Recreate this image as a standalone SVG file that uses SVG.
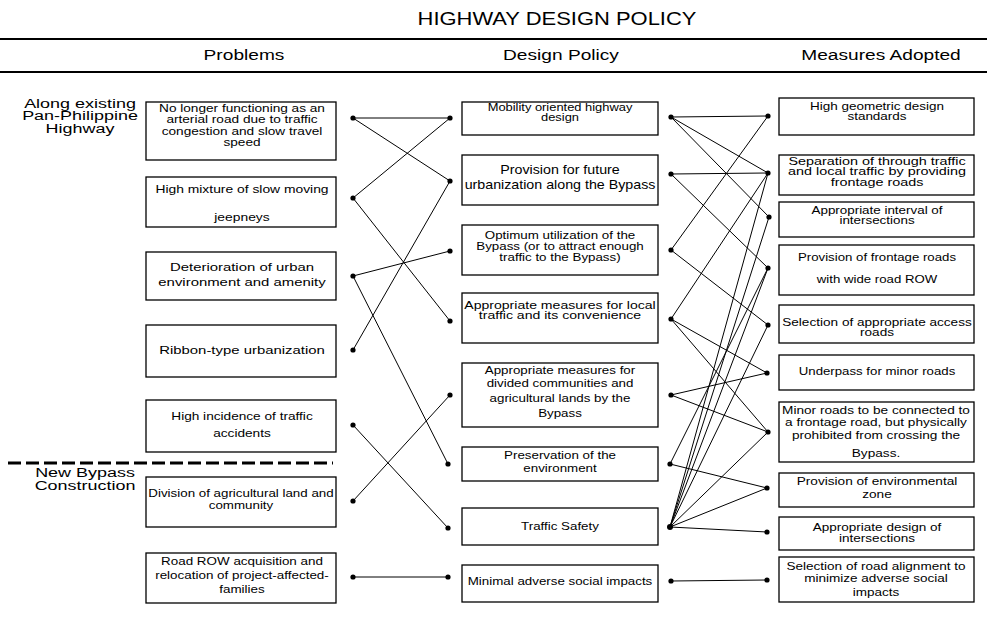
<svg xmlns="http://www.w3.org/2000/svg" width="987" height="624" viewBox="0 0 987 624">
  <style>
    text { font-family: "Liberation Sans", Arial, sans-serif; fill: #000; text-anchor: middle; }
    .title { font-size: 18px; }
    .head { font-size: 14.5px; }
    .side { font-size: 13.5px; }
    .t { font-size: 10.5px; }
    .t10 { font-size: 10px; }
    .t11 { font-size: 11.3px; }
    .t12 { font-size: 12.5px; }
    .box { fill: #fff; stroke: #000; stroke-width: 1.3; }
    .rule { stroke: #000; stroke-width: 2; }
    .dash { stroke: #000; stroke-width: 3; stroke-dasharray: 13 5; }
    .link { stroke: #000; stroke-width: 1; fill: none; }
    .dot { fill: #000; }
  </style>

  <rect width="987" height="624" fill="#fff"/>

  <!-- heading and column titles -->
  <g id="heading">
    <g transform="translate(557 0) scale(1.22 1)"><text class="title" x="0" y="25">HIGHWAY DESIGN POLICY</text></g>
    <line class="rule" x1="0" y1="39" x2="987" y2="39"/>
    <g transform="translate(244 0) scale(1.32 1)"><text class="head" x="0" y="60">Problems</text></g>
    <g transform="translate(561 0) scale(1.32 1)"><text class="head" x="0" y="60">Design Policy</text></g>
    <g transform="translate(881 0) scale(1.32 1)"><text class="head" x="0" y="60">Measures Adopted</text></g>
    <line class="rule" x1="0" y1="72" x2="987" y2="72"/>
  </g>

  <!-- section labels -->
  <g id="section-existing" transform="translate(80 0) scale(1.33 1)">
    <text class="side" x="0" y="108">Along existing</text>
    <text class="side" x="0" y="120.5">Pan-Philippine</text>
    <text class="side" x="0" y="133">Highway</text>
  </g>
  <line id="section-divider" class="dash" x1="8" y1="463" x2="333" y2="463"/>
  <g id="section-bypass" transform="translate(85 0) scale(1.33 1)">
    <text class="side" x="0" y="477">New Bypass</text>
    <text class="side" x="0" y="490">Construction</text>
  </g>

  <!-- connectors -->
  <g id="connectors">
    <!-- problems to design policy -->
    <line class="link" x1="353" y1="118" x2="450" y2="118"/>
    <line class="link" x1="353" y1="118" x2="450" y2="181"/>
    <line class="link" x1="353" y1="198" x2="450" y2="118"/>
    <line class="link" x1="353" y1="198" x2="450" y2="321"/>
    <line class="link" x1="353" y1="276" x2="450" y2="251"/>
    <line class="link" x1="353" y1="276" x2="448" y2="464"/>
    <line class="link" x1="353" y1="350" x2="450" y2="181"/>
    <line class="link" x1="353" y1="425" x2="448" y2="528"/>
    <line class="link" x1="353" y1="501" x2="450" y2="395"/>
    <line class="link" x1="353" y1="577" x2="448" y2="577"/>
    <!-- design policy to measures -->
    <line class="link" x1="671" y1="117" x2="768" y2="116"/>
    <line class="link" x1="671" y1="117" x2="768" y2="173"/>
    <line class="link" x1="671" y1="117" x2="769" y2="217"/>
    <line class="link" x1="671" y1="174" x2="768" y2="173"/>
    <line class="link" x1="671" y1="174" x2="768" y2="268"/>
    <line class="link" x1="671" y1="250" x2="768" y2="116"/>
    <line class="link" x1="671" y1="250" x2="768" y2="325"/>
    <line class="link" x1="671" y1="319" x2="768" y2="173"/>
    <line class="link" x1="671" y1="319" x2="767" y2="373"/>
    <line class="link" x1="671" y1="319" x2="768" y2="432"/>
    <line class="link" x1="671" y1="395" x2="767" y2="373"/>
    <line class="link" x1="671" y1="395" x2="768" y2="432"/>
    <line class="link" x1="670" y1="464" x2="768" y2="268"/>
    <line class="link" x1="670" y1="464" x2="767" y2="488"/>
    <line class="link" x1="670" y1="527" x2="768" y2="173"/>
    <line class="link" x1="670" y1="527" x2="769" y2="217"/>
    <line class="link" x1="670" y1="527" x2="768" y2="268"/>
    <line class="link" x1="670" y1="527" x2="768" y2="325"/>
    <line class="link" x1="670" y1="527" x2="768" y2="432"/>
    <line class="link" x1="670" y1="527" x2="767" y2="488"/>
    <line class="link" x1="670" y1="527" x2="767" y2="532"/>
    <line class="link" x1="671" y1="581" x2="767" y2="580"/>
    <!-- end dots -->
    <circle class="dot" cx="353" cy="118" r="2.6"/>
    <circle class="dot" cx="353" cy="198" r="2.6"/>
    <circle class="dot" cx="353" cy="276" r="2.6"/>
    <circle class="dot" cx="353" cy="350" r="2.6"/>
    <circle class="dot" cx="353" cy="425" r="2.6"/>
    <circle class="dot" cx="353" cy="501" r="2.6"/>
    <circle class="dot" cx="353" cy="577" r="2.6"/>
    <circle class="dot" cx="450" cy="118" r="2.6"/>
    <circle class="dot" cx="450" cy="181" r="2.6"/>
    <circle class="dot" cx="450" cy="251" r="2.6"/>
    <circle class="dot" cx="450" cy="321" r="2.6"/>
    <circle class="dot" cx="450" cy="395" r="2.6"/>
    <circle class="dot" cx="448" cy="464" r="2.6"/>
    <circle class="dot" cx="448" cy="528" r="2.6"/>
    <circle class="dot" cx="448" cy="577" r="2.6"/>
    <circle class="dot" cx="671" cy="117" r="2.6"/>
    <circle class="dot" cx="671" cy="174" r="2.6"/>
    <circle class="dot" cx="671" cy="250" r="2.6"/>
    <circle class="dot" cx="671" cy="319" r="2.6"/>
    <circle class="dot" cx="671" cy="395" r="2.6"/>
    <circle class="dot" cx="670" cy="464" r="2.6"/>
    <circle class="dot" cx="670" cy="527" r="3"/>
    <circle class="dot" cx="671" cy="581" r="2.6"/>
    <circle class="dot" cx="768" cy="116" r="2.6"/>
    <circle class="dot" cx="768" cy="173" r="2.6"/>
    <circle class="dot" cx="769" cy="217" r="2.6"/>
    <circle class="dot" cx="768" cy="268" r="2.6"/>
    <circle class="dot" cx="768" cy="325" r="2.6"/>
    <circle class="dot" cx="767" cy="373" r="2.6"/>
    <circle class="dot" cx="768" cy="432" r="2.6"/>
    <circle class="dot" cx="767" cy="488" r="2.6"/>
    <circle class="dot" cx="767" cy="532" r="2.6"/>
    <circle class="dot" cx="767" cy="580" r="2.6"/>
  </g>

  <!-- problems -->
  <g id="p1">
    <rect class="box" x="146" y="102" width="190" height="58"/>
    <g transform="translate(242 0) scale(1.3 1)">
      <text class="t" x="0" y="112">No longer functioning as an</text>
      <text class="t" x="0" y="123.5">arterial road due to traffic</text>
      <text class="t" x="0" y="135">congestion and slow travel</text>
      <text class="t" x="0" y="146.5">speed</text>
    </g>
  </g>
  <g id="p2">
    <rect class="box" x="146" y="177" width="190" height="50"/>
    <g transform="translate(242 0) scale(1.32 1)">
      <text class="t" x="0" y="193">High mixture of slow moving</text>
      <text class="t" x="0" y="221">jeepneys</text>
    </g>
  </g>
  <g id="p3">
    <rect class="box" x="146" y="252" width="190" height="48"/>
    <g transform="translate(242 0) scale(1.32 1)">
      <text class="t11" x="0" y="271">Deterioration of urban</text>
      <text class="t11" x="0" y="286">environment and amenity</text>
    </g>
  </g>
  <g id="p4">
    <rect class="box" x="146" y="325" width="190" height="52"/>
    <g transform="translate(242 0) scale(1.32 1)">
      <text class="t11" x="0" y="354">Ribbon-type urbanization</text>
    </g>
  </g>
  <g id="p5">
    <rect class="box" x="146" y="400" width="190" height="52"/>
    <g transform="translate(242 0) scale(1.3 1)">
      <text class="t" x="0" y="420.5">High incidence of traffic</text>
      <text class="t" x="0" y="437">accidents</text>
    </g>
  </g>
  <g id="p6">
    <rect class="box" x="146" y="477" width="190" height="50"/>
    <g transform="translate(241 0) scale(1.27 1)">
      <text class="t" x="0" y="497">Division of agricultural land and</text>
      <text class="t" x="0" y="509">community</text>
    </g>
  </g>
  <g id="p7">
    <rect class="box" x="146" y="553" width="190" height="50"/>
    <g transform="translate(242 0) scale(1.28 1)">
      <text class="t" x="0" y="565.5">Road ROW acquisition and</text>
      <text class="t" x="0" y="579">relocation of project-affected-</text>
      <text class="t" x="0" y="593">families</text>
    </g>
  </g>

  <!-- design policy -->
  <g id="d1">
    <rect class="box" x="462" y="102" width="196" height="33"/>
    <g transform="translate(560 0) scale(1.29 1)">
      <text class="t10" x="0" y="111">Mobility oriented highway</text>
      <text class="t10" x="0" y="121">design</text>
    </g>
  </g>
  <g id="d2">
    <rect class="box" x="462" y="155" width="196" height="50"/>
    <g transform="translate(560 0) scale(1.14 1)">
      <text class="t12" x="0" y="174.5">Provision for future</text>
      <text class="t12" x="0" y="189.5">urbanization along the Bypass</text>
    </g>
  </g>
  <g id="d3">
    <rect class="box" x="462" y="225" width="196" height="50"/>
    <g transform="translate(560 0) scale(1.27 1)">
      <text class="t" x="0" y="239.5">Optimum utilization of the</text>
      <text class="t" x="0" y="250.5">Bypass  (or to attract enough</text>
      <text class="t" x="0" y="261.5">traffic to the Bypass)</text>
    </g>
  </g>
  <g id="d4">
    <rect class="box" x="462" y="293" width="196" height="50"/>
    <g transform="translate(560 0) scale(1.34 1)">
      <text class="t" x="0" y="309">Appropriate measures for local</text>
      <text class="t" x="0" y="319.5">traffic and its convenience</text>
    </g>
  </g>
  <g id="d5">
    <rect class="box" x="462" y="363" width="196" height="64"/>
    <g transform="translate(560 0) scale(1.27 1)">
      <text class="t" x="0" y="374">Appropriate measures for</text>
      <text class="t" x="0" y="387.5">divided communities and</text>
      <text class="t" x="0" y="402">agricultural lands by the</text>
      <text class="t" x="0" y="417">Bypass</text>
    </g>
  </g>
  <g id="d6">
    <rect class="box" x="462" y="447" width="196" height="34"/>
    <g transform="translate(560 0) scale(1.27 1)">
      <text class="t" x="0" y="459">Preservation of the</text>
      <text class="t" x="0" y="472">environment</text>
    </g>
  </g>
  <g id="d7">
    <rect class="box" x="462" y="508" width="196" height="37"/>
    <g transform="translate(560 0) scale(1.27 1)">
      <text class="t" x="0" y="530">Traffic Safety</text>
    </g>
  </g>
  <g id="d8">
    <rect class="box" x="462" y="565" width="196" height="37"/>
    <g transform="translate(560 0) scale(1.27 1)">
      <text class="t" x="0" y="585.5">Minimal adverse social impacts</text>
    </g>
  </g>

  <!-- measures adopted -->
  <g id="m1">
    <rect class="box" x="779" y="98" width="195" height="37"/>
    <g transform="translate(877 0) scale(1.35 1)">
      <text class="t10" x="0" y="110.5">High geometric design</text>
      <text class="t10" x="0" y="120.5">standards</text>
    </g>
  </g>
  <g id="m2">
    <rect class="box" x="779" y="155" width="195" height="40"/>
    <g transform="translate(877 0) scale(1.44 1)">
      <text class="t10" x="0" y="165.5">Separation of through traffic</text>
      <text class="t10" x="0" y="175.5">and local traffic by providing</text>
      <text class="t10" x="0" y="186.5">frontage roads</text>
    </g>
  </g>
  <g id="m3">
    <rect class="box" x="779" y="202" width="195" height="35"/>
    <g transform="translate(877 0) scale(1.34 1)">
      <text class="t10" x="0" y="214.5">Appropriate interval of</text>
      <text class="t10" x="0" y="224.5">intersections</text>
    </g>
  </g>
  <g id="m4">
    <rect class="box" x="779" y="245" width="195" height="50"/>
    <g transform="translate(877 0) scale(1.26 1)">
      <text class="t" x="0" y="261">Provision of frontage roads</text>
      <text class="t" x="0" y="283">with wide road ROW</text>
    </g>
  </g>
  <g id="m5">
    <rect class="box" x="779" y="305" width="195" height="38"/>
    <g transform="translate(877 0) scale(1.36 1)">
      <text class="t10" x="0" y="326">Selection of appropriate access</text>
      <text class="t10" x="0" y="336">roads</text>
    </g>
  </g>
  <g id="m6">
    <rect class="box" x="779" y="355" width="195" height="35"/>
    <g transform="translate(877 0) scale(1.26 1)">
      <text class="t" x="0" y="375.5">Underpass for minor roads</text>
    </g>
  </g>
  <g id="m7">
    <rect class="box" x="779" y="402" width="195" height="60"/>
    <g transform="translate(876 0) scale(1.3 1)">
      <text class="t" x="0" y="414">Minor roads to be connected to</text>
      <text class="t" x="0" y="426">a frontage road, but physically</text>
      <text class="t" x="0" y="439">prohibited from crossing the</text>
      <text class="t" x="0" y="457">Bypass.</text>
    </g>
  </g>
  <g id="m8">
    <rect class="box" x="779" y="473" width="195" height="34"/>
    <g transform="translate(877 0) scale(1.3 1)">
      <text class="t" x="0" y="485.5">Provision of environmental</text>
      <text class="t" x="0" y="498.5">zone</text>
    </g>
  </g>
  <g id="m9">
    <rect class="box" x="779" y="517" width="195" height="33"/>
    <g transform="translate(877 0) scale(1.29 1)">
      <text class="t" x="0" y="531">Appropriate design of</text>
      <text class="t" x="0" y="542">intersections</text>
    </g>
  </g>
  <g id="m10">
    <rect class="box" x="779" y="557" width="195" height="45"/>
    <g transform="translate(876 0) scale(1.29 1)">
      <text class="t" x="0" y="570">Selection of road alignment to</text>
      <text class="t" x="0" y="582">minimize adverse social</text>
      <text class="t" x="0" y="596.5">impacts</text>
    </g>
  </g>
</svg>
